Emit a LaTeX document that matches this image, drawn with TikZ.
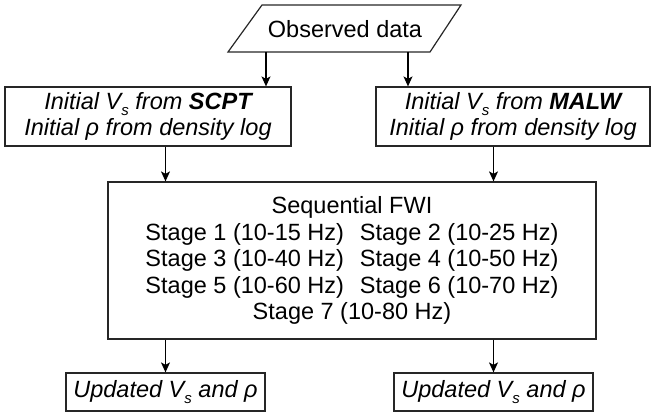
\documentclass[tikz,border=0pt]{standalone}
\usepackage{fontspec}
\setmainfont{Liberation Sans}
\usetikzlibrary{arrows.meta}
\newcommand{\subs}{\raisebox{-0.5ex}{\fontsize{15}{15}\selectfont s}}
\begin{document}
\begin{tikzpicture}[x=1pt,y=-1pt,
  txt/.style={font=\fontsize{23.5}{26.5}\selectfont, align=center, inner sep=0pt},
  box/.style={txt, draw=black!85, line width=1.2pt, rectangle},
  conn/.style={line width=1.2pt, -{Stealth[length=10pt,width=9pt,inset=2.5pt]}}]
\useasboundingbox (0,0) rectangle (654,412);
% observed data parallelogram
\draw[line width=1.2pt, draw=black!85] (228,52) -- (262,5) -- (461,5) -- (430,52) -- cycle;
\node[txt] (obs) at (345,29) {Observed data};
\coordinate (obsL) at (266,52);
\coordinate (obsR) at (408,52);
% initial models
\node[box, minimum width=286pt, minimum height=59pt] (lbox) at (148,116.5)
  {\itshape Initial V\subs{} from \textbf{SCPT}\\ \itshape Initial ρ from density log};
\node[box, minimum width=274pt, minimum height=59pt] (rbox) at (513,116.5)
  {\itshape Initial V\subs{} from \textbf{MALW}\\ \itshape Initial ρ from density log};
% FWI
\node[box, minimum width=488pt, minimum height=157pt] (fwi) at (352,260.5)
  {Sequential FWI\\
   Stage 1 (10-15 Hz)\hspace{0.4em} Stage 2 (10-25 Hz)\\
   Stage 3 (10-40 Hz)\hspace{0.4em} Stage 4 (10-50 Hz)\\
   Stage 5 (10-60 Hz)\hspace{0.4em} Stage 6 (10-70 Hz)\\
   Stage 7 (10-80 Hz)};
% outputs
\node[box, minimum width=199pt, minimum height=38pt] (lout) at (165.5,392)
  {\itshape Updated V\subs{} and ρ};
\node[box, minimum width=199pt, minimum height=38pt] (rout) at (493.5,392)
  {\itshape Updated V\subs{} and ρ};
% connectors
\draw[conn] (obsL) -- (obsL |- lbox.north);
\draw[conn] (obsR) -- (obsR |- rbox.north);
\draw[conn] (lbox.south -| lout.north) -- (lout.north |- fwi.north);
\draw[conn] (rbox.south -| rout.north) -- (rout.north |- fwi.north);
\draw[conn] (fwi.south -| lout.north) -- (lout.north);
\draw[conn] (fwi.south -| rout.north) -- (rout.north);
\end{tikzpicture}
\end{document}
